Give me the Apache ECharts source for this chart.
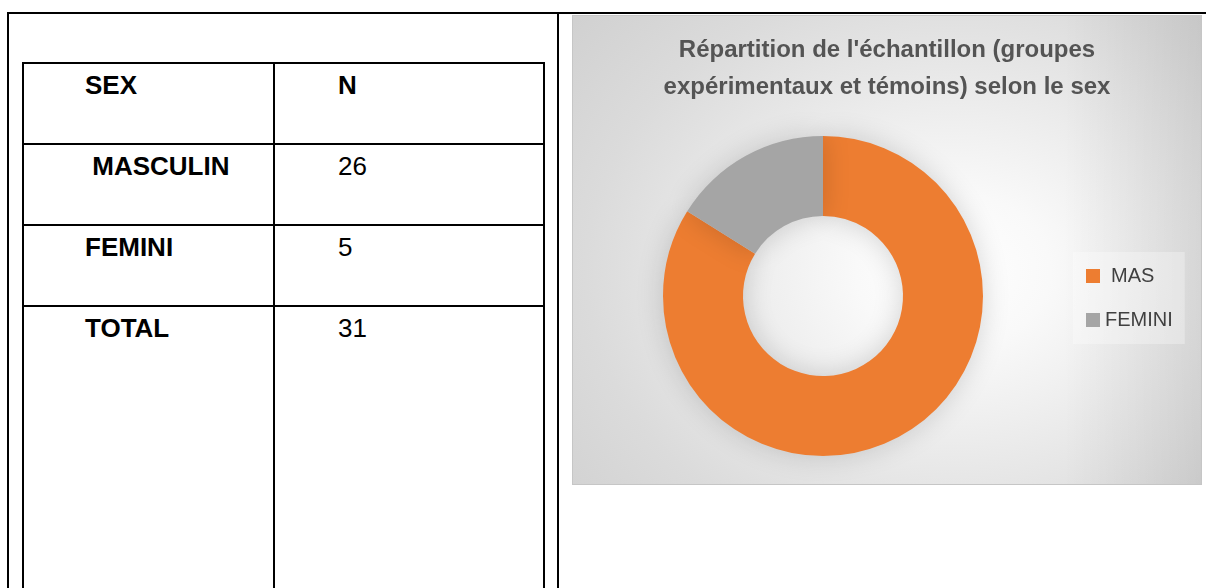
<!DOCTYPE html>
<html>
<head>
<meta charset="utf-8">
<script src="https://cdn.jsdelivr.net/npm/echarts@6/dist/echarts.min.js"></script>
<style>
  html, body { margin: 0; padding: 0; background: #fff; width: 1206px; height: 588px; overflow: hidden; }
  .ln { position: absolute; background: #000; }
  .cell { position: absolute; font-family: "Liberation Sans", Arial, sans-serif; font-size: 26px; line-height: 26px; color: #000; white-space: pre; }
  .b { font-weight: bold; }
  #chart {
    position: absolute; left: 572px; top: 15px; width: 630px; height: 470px; box-sizing: border-box;
    border: 1px solid #c6c6c6;
    background:
      linear-gradient(to right, rgba(0,0,0,0) 78%, rgba(0,0,0,0.08) 100%),
      radial-gradient(ellipse 540px 430px at 380px 255px, #ffffff 0%, #f9f9f9 18%, #e8e8e8 46%, #dbdbdb 68%, #cdcdcd 100%);
  }
</style>
</head>
<body>
<div id="table"></div>
<div id="chart"></div>
<script>
// ---- data ----
var tableHeader = ['SEX', 'N'];
var tableLabels = [' MASCULIN', 'FEMINI', 'TOTAL'];
var tableValues = ['26', '5', '31'];
var categories = ['MAS', 'FEMINI'];
var values = [26, 5];
var titleText = "Répartition de l'échantillon (groupes\nexpérimentaux et témoins) selon le sex";

// ---- table (document part) ----
var t = document.getElementById('table');
function line(x, y, w, h) {
  var d = document.createElement('div'); d.className = 'ln';
  d.style.left = x + 'px'; d.style.top = y + 'px'; d.style.width = w + 'px'; d.style.height = h + 'px';
  t.appendChild(d);
}
function cell(txt, x, baseline, bold) {
  var d = document.createElement('div'); d.className = 'cell' + (bold ? ' b' : '');
  d.textContent = txt; d.style.left = x + 'px'; d.style.top = (baseline - 22) + 'px';
  t.appendChild(d);
}
// outer frame
line(7, 12, 1199, 2);
line(7, 12, 2, 576);
line(557, 12, 2, 576);
// inner table
var rowTops = [62, 143, 224, 305];
line(22, 62, 523, 2);
for (var i = 1; i < rowTops.length; i++) line(22, rowTops[i], 523, 2);
line(22, 62, 2, 526);
line(273, 62, 2, 526);
line(543, 62, 2, 526);
cell(tableHeader[0], 85, 94, true);
cell(tableHeader[1], 338, 94, true);
for (var r = 0; r < tableLabels.length; r++) {
  cell(tableLabels[r], 85, rowTops[r + 1] + 32, true);
  cell(tableValues[r], 338, rowTops[r + 1] + 32, false);
}

// ---- chart ----
var chart = echarts.init(document.getElementById('chart'), null, { renderer: 'canvas' });
chart.setOption({
  animation: false,
  backgroundColor: 'transparent',
  title: {
    text: titleText,
    left: 'center',
    top: 16,
    padding: 0,
    textStyle: {
      fontFamily: 'Liberation Sans, Arial, sans-serif',
      fontSize: 24,
      fontWeight: 'bold',
      color: '#545454',
      lineHeight: 37
    }
  },
  legend: {
    orient: 'vertical',
    left: 500,
    top: 236,
    padding: [14, 12, 14, 13],
    backgroundColor: 'rgba(255,255,255,0.3)',
    itemWidth: 14,
    itemHeight: 14,
    itemGap: 24,
    icon: 'rect',
    textStyle: {
      fontFamily: 'Liberation Sans, Arial, sans-serif',
      fontSize: 20,
      color: '#404040'
    },
    data: [
      { name: categories[0], textStyle: { padding: [0, 0, 0, 6] } },
      { name: categories[1] }
    ]
  },
  series: [{
    type: 'pie',
    center: [250, 280],
    radius: [80, 160],
    startAngle: 90,
    clockwise: true,
    label: { show: false },
    labelLine: { show: false },
    emphasis: { disabled: true },
    itemStyle: {
      shadowBlur: 28,
      shadowColor: 'rgba(0,0,0,0.16)'
    },
    data: categories.map(function (c, i) {
      return { name: c, value: values[i], itemStyle: { color: ['#ED7D31', '#A5A5A5'][i] } };
    })
  }]
});
</script>
</body>
</html>
